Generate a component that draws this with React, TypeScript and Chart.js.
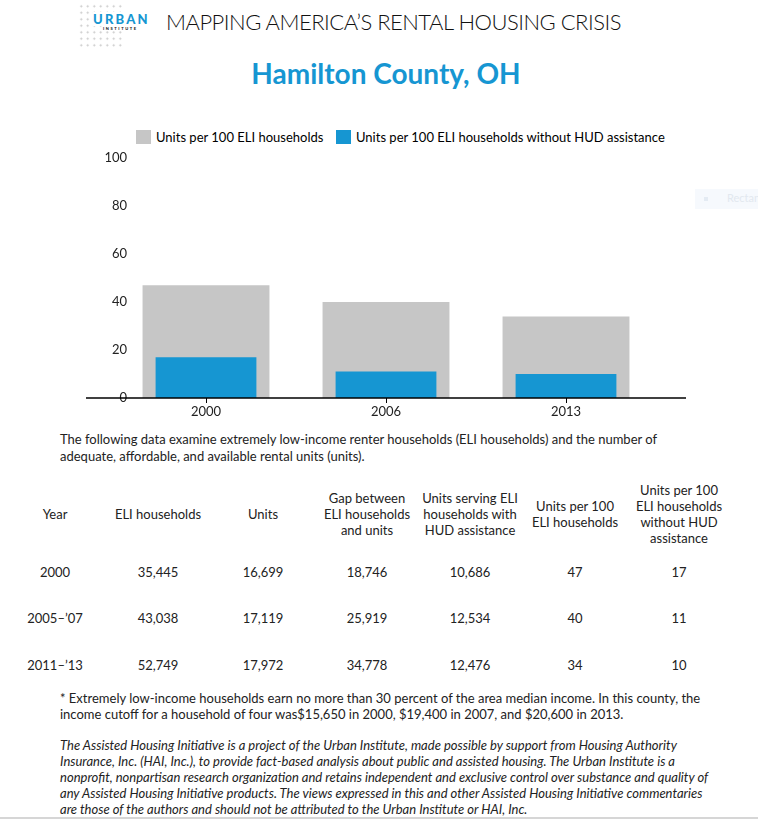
import React, { useEffect, useRef } from "react";
import { Chart, registerables } from "chart.js";

Chart.register(...registerables);

const categories = ["2000", "2006", "2013"];
const unitsPer100 = [47, 40, 34];
const unitsPer100NoHud = [17, 11, 10];
const yTicks = [0, 20, 40, 60, 80, 100];

const tableYears = ["2000", "2005\u2013\u201907", "2011\u2013\u201913"];
const eliHouseholds = ["35,445", "43,038", "52,749"];
const units = ["16,699", "17,119", "17,972"];
const gap = ["18,746", "25,919", "34,778"];
const unitsServingHud = ["10,686", "12,534", "12,476"];
const tableUnitsPer100 = ["47", "40", "34"];
const tableUnitsPer100NoHud = ["17", "11", "10"];

const GRAY = "#c6c6c6";
const BLUE = "#1696d2";
const FONT = "Lato, 'Open Sans', sans-serif";

const baselinePlugin = {
  id: "baseline",
  afterLayout(chart: any) {
    // let the y tick labels reach slightly into the plot area, as in the original
    const y = chart.scales.y;
    y.right = y.right + 11;
  },
  afterDatasetsDraw(chart: any) {
    const y = chart.scales.y.getPixelForValue(0);
    const ctx = chart.ctx;
    ctx.save();
    ctx.strokeStyle = "#000";
    ctx.lineWidth = 1.5;
    ctx.beginPath();
    ctx.moveTo(86, y);
    ctx.lineTo(686, y);
    ctx.stroke();
    ctx.restore();
  },
};

function BarChart() {
  const ref = useRef<HTMLCanvasElement | null>(null);
  useEffect(() => {
    if (!ref.current) return;
    const chart = new Chart(ref.current, {
      type: "bar",
      data: {
        labels: categories,
        datasets: [
          {
            label: "Units per 100 ELI households",
            data: unitsPer100,
            backgroundColor: GRAY,
            grouped: false,
            barPercentage: 0.705,
            categoryPercentage: 1,
            order: 2,
          },
          {
            label: "Units per 100 ELI households without HUD assistance",
            data: unitsPer100NoHud,
            backgroundColor: BLUE,
            grouped: false,
            barPercentage: 0.56,
            categoryPercentage: 1,
            order: 1,
          },
        ],
      },
      options: {
        animation: false,
        responsive: false,
        maintainAspectRatio: false,
        layout: { padding: { top: 8, right: 102, left: 0, bottom: 0 } },
        plugins: {
          legend: { display: false },
          tooltip: { enabled: false },
        },
        scales: {
          x: {
            grid: {
              display: true,
              offset: false,
              drawOnChartArea: false,
              drawTicks: true,
              tickLength: 5,
              color: "#000",
            },
            border: { display: false },
            ticks: {
              color: "#222",
              font: { family: FONT, size: 13 },
              padding: 1,
            },
            afterFit(scale: any) {
              scale.height = 30;
            },
          },
          y: {
            min: 0,
            max: 100,
            afterBuildTicks(scale: any) {
              scale.ticks = yTicks.map((v) => ({ value: v }));
            },
            grid: { display: false, drawTicks: false },
            border: { display: false },
            ticks: {
              color: "#222",
              font: { family: FONT, size: 13 },
              padding: 0,
            },
            afterFit(scale: any) {
              scale.width = 116;
            },
          },
        },
      },
      plugins: [baselinePlugin],
    });
    return () => chart.destroy();
  }, []);
  return (
    <canvas
      ref={ref}
      width={758}
      height={278}
      style={{ position: "absolute", left: 0, top: 150, width: 758, height: 278 }}
    />
  );
}

const abs = (left: number, top: number, extra: React.CSSProperties = {}): React.CSSProperties => ({
  position: "absolute",
  left,
  top,
  ...extra,
});

const colCenters = [55, 158, 263, 367, 470, 575, 679];
const headers: string[][] = [
  ["Year"],
  ["ELI households"],
  ["Units"],
  ["Gap between", "ELI households", "and units"],
  ["Units serving ELI", "households with", "HUD assistance"],
  ["Units per 100", "ELI households"],
  ["Units per 100", "ELI households", "without HUD", "assistance"],
];
const rowCenters = [572, 618, 665];

export default function App() {
  const columns = [tableYears, eliHouseholds, units, gap, unitsServingHud, tableUnitsPer100, tableUnitsPer100NoHud];
  const textStyle: React.CSSProperties = { fontFamily: FONT, fontSize: 13, color: "#222" };
  return (
    <div style={{ width: 742, height: 807, fontFamily: FONT }}>
      {/* logo dots */}
      <div
        style={abs(78, 3, {
          width: 46,
          height: 44,
          backgroundImage: "radial-gradient(circle, #c8c8c8 0.8px, transparent 1.2px)",
          backgroundSize: "6.5px 6.5px",
        })}
      />
      <div
        style={abs(93, 12, {
          fontFamily: FONT,
          fontWeight: 900,
          fontSize: 13,
          letterSpacing: 2.2,
          color: BLUE,
          lineHeight: "14px",
          background: "#fff",
        })}
      >
        URBAN
      </div>
      <div
        style={abs(103, 26, {
          fontFamily: FONT,
          fontWeight: 900,
          fontSize: 4,
          letterSpacing: 1.6,
          color: "#222",
          lineHeight: "5px",
          background: "#fff",
        })}
      >
        INSTITUTE
      </div>
      <div
        style={abs(166, 8, {
          fontFamily: FONT,
          fontWeight: 300,
          fontSize: 22,
          color: "#111",
          lineHeight: "28px",
          whiteSpace: "nowrap",
          letterSpacing: -0.5,
        })}
      >
        MAPPING AMERICA’S RENTAL HOUSING CRISIS
      </div>
      <div
        style={abs(0, 55, {
          width: 772,
          textAlign: "center",
          fontFamily: FONT,
          fontWeight: 700,
          fontSize: 28,
          color: BLUE,
          lineHeight: "36px",
        })}
      >
        Hamilton County, OH
      </div>

      {/* legend */}
      <div style={abs(136, 130, { width: 15, height: 14, background: GRAY })} />
      <div style={abs(156, 128, { ...textStyle, color: "#000", lineHeight: "18px", whiteSpace: "nowrap" })}>
        Units per 100 ELI households
      </div>
      <div style={abs(336, 130, { width: 15, height: 14, background: BLUE })} />
      <div style={abs(356, 128, { ...textStyle, color: "#000", lineHeight: "18px", whiteSpace: "nowrap" })}>
        Units per 100 ELI households without HUD assistance
      </div>

      {/* faint tooltip remnant */}
      <div
        style={abs(695, 189, {
          width: 63,
          height: 20,
          background: "#f6f9fd",
          overflow: "hidden",
          whiteSpace: "nowrap",
        })}
      >
        <span style={{ position: "absolute", left: 9, top: 8, width: 4, height: 4, background: "#e4ebf3" }} />
        <span style={{ position: "absolute", left: 32, top: 2, fontFamily: FONT, fontSize: 11, color: "#e2e8ef" }}>
          Rectangle
        </span>
      </div>

      <BarChart />

      <div style={abs(60, 431, { ...textStyle, lineHeight: "17px", width: 640 })}>
        The following data examine extremely low-income renter households (ELI households) and the number of
        adequate, affordable, and available rental units (units).
      </div>

      {/* table headers */}
      {headers.map((lines, ci) => (
        <div
          key={"h" + ci}
          style={abs(colCenters[ci] - 70, 514 - (lines.length * 16) / 2, {
            ...textStyle,
            width: 140,
            textAlign: "center",
            lineHeight: "16px",
          })}
        >
          {lines.map((l, li) => (
            <div key={li}>{l}</div>
          ))}
        </div>
      ))}
      {columns.map((col, ci) =>
        col.map((v, ri) => (
          <div
            key={"c" + ci + "-" + ri}
            style={abs(colCenters[ci] - 60, rowCenters[ri] - 9, {
              ...textStyle,
              width: 120,
              textAlign: "center",
              lineHeight: "18px",
            })}
          >
            {v}
          </div>
        ))
      )}

      <div style={abs(60, 690, { ...textStyle, lineHeight: "16px", width: 680 })}>
        * Extremely low-income households earn no more than 30 percent of the area median income. In this county, the
        income cutoff for a household of four was$15,650 in 2000, $19,400 in 2007, and $20,600 in 2013.
      </div>
      <div style={abs(60, 737, { ...textStyle, lineHeight: "16px", width: 662, fontStyle: "italic" })}>
        The Assisted Housing Initiative is a project of the Urban Institute, made possible by support from Housing
        Authority Insurance, Inc. (HAI, Inc.), to provide fact-based analysis about public and assisted housing. The
        Urban Institute is a nonprofit, nonpartisan research organization and retains independent and exclusive
        control over substance and quality of any Assisted Housing Initiative products. The views expressed in this
        and other Assisted Housing Initiative commentaries are those of the authors and should not be attributed to
        the Urban Institute or HAI, Inc.
      </div>
      <div style={abs(0, 817, { width: 758, height: 2, background: "#d6d6d6" })} />
    </div>
  );
}
